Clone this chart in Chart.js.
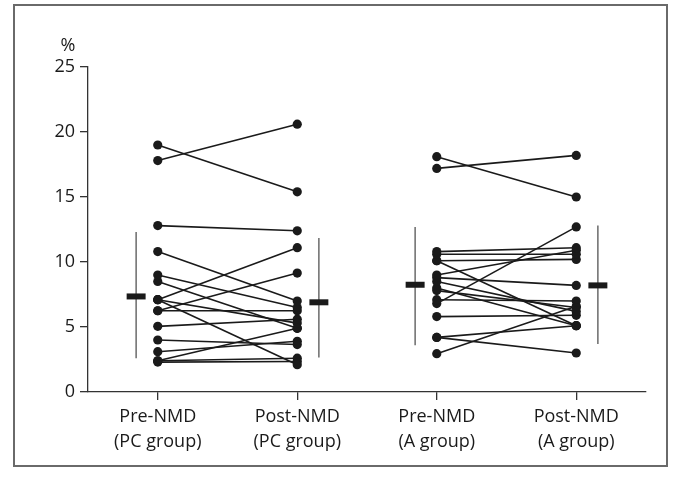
<!DOCTYPE html>
<html>
<head>
<meta charset="utf-8">
<script src="https://cdn.jsdelivr.net/npm/chart.js@4.4.1/dist/chart.umd.min.js"></script>
<style>
  html, body { margin: 0; padding: 0; background: #fff; }
  #wrap { position: relative; width: 680px; height: 482px; }
  #frame { position: absolute; left: 13px; top: 4px; width: 651px; height: 459px; border: 2px solid #6a6a6a; pointer-events: none; }
  canvas { position: absolute; left: 0; top: 0; }
</style>
</head>
<body>
<div id="wrap">
  <canvas id="c" width="680" height="482"></canvas>
  <div id="frame"></div>
</div>
<script>
// ---- data ----
const categories = [["Pre-NMD", "(PC group)"], ["Post-NMD", "(PC group)"], ["Pre-NMD", "(A group)"], ["Post-NMD", "(A group)"]];
const yTicks = [0, 5, 10, 15, 20, 25];
const yUnit = "%";

const pcPre  = [19.0, 17.8, 12.8, 10.8, 9.0, 8.5, 7.1, 7.1, 7.1, 6.25, 6.25, 5.05, 4.0, 3.1, 2.4, 2.4, 2.3];
const pcPost = [15.4, 20.6, 12.4, 7.0, 6.5, 4.9, 11.1, 5.3, 2.1, 9.15, 6.25, 5.6, 3.65, 3.9, 4.9, 2.6, 2.35];

const aPre  = [18.1, 17.2, 10.8, 10.6, 10.1, 10.1, 9.0, 8.8, 8.5, 8.0, 7.8, 7.1, 6.8, 5.8, 4.2, 4.2, 2.95];
const aPost = [15.0, 18.2, 11.1, 10.6, 10.2, 5.1, 10.9, 8.2, 6.2, 5.1, 6.5, 7.0, 12.7, 5.9, 5.1, 3.0, 6.6];

const groupMean = [7.35, 6.9, 8.25, 8.2];
const groupLow  = [2.6, 2.65, 3.6, 3.7];
const groupHigh = [12.3, 11.85, 12.7, 12.8];

// ---- layout helpers (not data) ----
const summaryOffset = [-0.155, 0.155, -0.155, 0.155];
const meanHalfWidth = 0.068;
const FONT = "'Open Sans', 'Noto Sans', sans-serif";
const INK = "#1a1a1a";

const datasets = [];
function addPairs(pre, post, xPre, xPost) {
  for (let i = 0; i < pre.length; i++) {
    datasets.push({
      data: [{ x: xPre, y: pre[i] }, { x: xPost, y: post[i] }],
      borderColor: INK, borderWidth: 1.6,
      pointRadius: 4.6, pointBackgroundColor: INK, pointBorderColor: INK, pointBorderWidth: 0,
      tension: 0, order: 1
    });
  }
}
addPairs(pcPre, pcPost, 0, 1);
addPairs(aPre, aPost, 2, 3);

for (let k = 0; k < 4; k++) {
  const xs = k + summaryOffset[k];
  datasets.push({
    data: [{ x: xs, y: groupLow[k] }, { x: xs, y: groupHigh[k] }],
    borderColor: "#6a6a6a", borderWidth: 1.5, pointRadius: 0, order: 2
  });
  datasets.push({
    data: [{ x: xs - meanHalfWidth, y: groupMean[k] }, { x: xs + meanHalfWidth, y: groupMean[k] }],
    borderColor: INK, borderWidth: 6, borderCapStyle: "butt", pointRadius: 0, order: 0
  });
}

const unitLabel = {
  id: "unitLabel",
  afterDraw(chart) {
    const y = chart.scales.y;
    const ctx = chart.ctx;
    ctx.save();
    ctx.font = "18px " + FONT;
    ctx.fillStyle = INK;
    ctx.textAlign = "center";
    ctx.textBaseline = "middle";
    ctx.fillText(yUnit, y.right - 20, y.getPixelForValue(yTicks[yTicks.length - 1]) - 21);
    ctx.restore();
  }
};

new Chart(document.getElementById("c"), {
  type: "line",
  data: { datasets },
  plugins: [unitLabel],
  options: {
    responsive: false,
    animation: false,
    layout: { padding: { left: 0, right: 34, top: 67, bottom: 0 } },
    plugins: { legend: { display: false }, tooltip: { enabled: false } },
    scales: {
      x: {
        type: "linear", min: -0.5, max: 3.5,
        afterBuildTicks(s) { s.ticks = categories.map((_, i) => ({ value: i })); },
        afterFit(s) { s.height = 90; },
        ticks: {
          callback: (v) => categories[v] || "",
          color: INK, font: { family: FONT, size: 18, lineHeight: 1.35 }, padding: 5, maxRotation: 0, autoSkip: false
        },
        grid: { drawOnChartArea: false, drawTicks: true, tickLength: 8, color: "#333", lineWidth: 1.3 },
        border: { display: true, color: "#333", width: 1.3 }
      },
      y: {
        type: "linear", min: 0, max: 25,
        afterBuildTicks(s) { s.ticks = yTicks.map(v => ({ value: v })); },
        afterFit(s) { s.width = 88; },
        ticks: { color: INK, font: { family: FONT, size: 18 }, padding: 5 },
        grid: { drawOnChartArea: false, drawTicks: true, tickLength: 8, color: "#333", lineWidth: 1.3 },
        border: { display: true, color: "#333", width: 1.3 }
      }
    }
  }
});
</script>
</body>
</html>
